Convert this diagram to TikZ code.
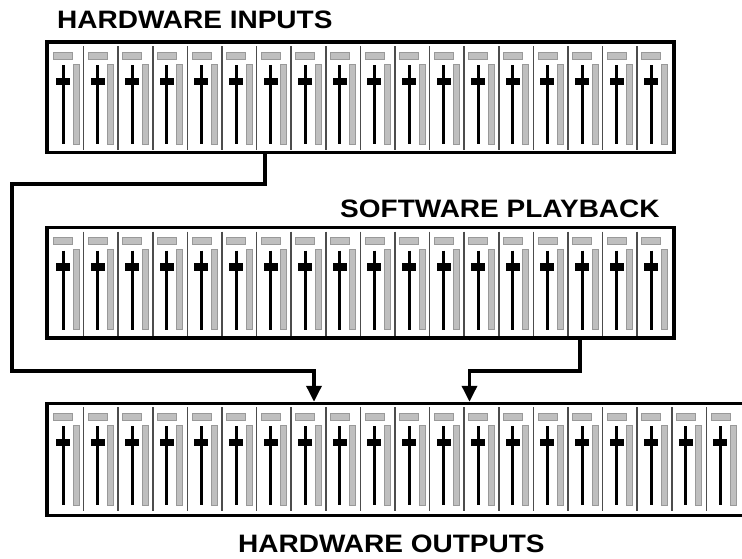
\documentclass[tikz,border=0pt]{standalone}
\usepackage{fontspec}
\newfontfamily\panelfont{Liberation Sans}
\usetikzlibrary{positioning,arrows.meta}

% one row of channel strips: top of the panel, last strip index
\newcommand\faderrow[2]{%
  \foreach \i in {0,...,#2}{
    \pgfmathsetmacro\sx{49+34.6*\i}
    \ifnum\i>0 \draw[divider] (\sx,#1+4) -- (\sx,#1+108); \fi
    \draw[chlabel] (\sx+4.5,#1+10) rectangle (\sx+23.5,#1+17);
    \draw[meter]   (\sx+24,#1+22) rectangle (\sx+30,#1+102);
    \draw[fader]   (\sx+14,#1+23) -- (\sx+14,#1+102);
    \fill          (\sx+7,#1+35.5) rectangle (\sx+21,#1+43);
  }}

\begin{document}
\begin{tikzpicture}[
    x=1pt,y=-1pt,
    panel/.style  ={draw,line width=3.5pt,inner sep=0pt,minimum height=110.5pt},
    divider/.style={draw=black!70,line width=1.5pt},
    chlabel/.style={fill=gray!50,draw=gray!80,line width=0.8pt},
    meter/.style  ={fill=gray!50,draw=gray!80,line width=0.8pt},
    fader/.style  ={line width=3pt},
    title/.style  ={font=\panelfont\bfseries\fontsize{28}{30}\selectfont,
                    inner sep=0pt,anchor=base west},
    feed/.style   ={line width=3.5pt,-{Triangle[length=16pt,width=15pt]}}
]
\useasboundingbox (0,0) rectangle (742,558);
\clip (0,0) rectangle (742,558);

\node[panel, minimum width=627pt]                  (inputs)   at (360.5,97.25) {};
\node[panel, minimum width=627pt, below=71.5pt of inputs] (playback) {};
\node[panel, minimum width=713pt, minimum height=112pt,
      below=62pt of playback.south west, anchor=north west] (outputs) {};

\faderrow{42}{17}
\faderrow{227.5}{17}
\faderrow{403}{19}

\node[title] (intitle)  at (57,28)   {\scalebox{1}[0.9]{HARDWARE INPUTS}};
\node[title] (pbtitle)  at (340,217) {\scalebox{1}[0.9]{SOFTWARE PLAYBACK}};
\node[title] (outtitle) at (238,552) {\scalebox{1}[0.9]{HARDWARE OUTPUTS}};

\coordinate (tapA)  at (265,184);
\coordinate (loopL) at (12,371);
\coordinate (dropA) at (314,371);
\coordinate (tapB)  at (580,371);
\coordinate (dropB) at (469.5,371);

\draw[feed] (inputs.south -| tapA) -- (tapA) -| (loopL) -- (dropA)
            -- (outputs.north -| dropA);
\draw[feed] (playback.south -| tapB) -- (tapB) -- (dropB)
            -- (outputs.north -| dropB);

\end{tikzpicture}
\end{document}
